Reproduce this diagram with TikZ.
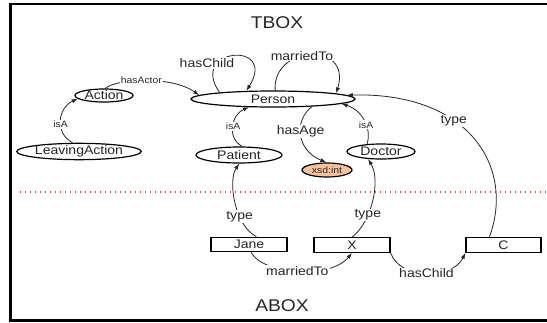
\documentclass[tikz,border=0pt]{standalone}
\usepackage{fontspec}
\setmainfont[FakeStretch=1.13]{Liberation Sans}
\usetikzlibrary{shapes.geometric,arrows.meta,calc}
\definecolor{ink}{HTML}{262626}
\definecolor{peach}{HTML}{F5C29C}
\definecolor{sepred}{HTML}{E8403C}

\begin{document}
\begin{tikzpicture}[x=1pt,y=-1pt,
  concept/.style={ellipse,draw,line width=1.2pt,fill=white,inner sep=0pt,
    text=ink,font=\fontsize{12.4}{14}\selectfont},
  literal/.style={concept,fill=peach,font=\fontsize{9.2}{11}\selectfont},
  individual/.style={rectangle,draw,line width=1.2pt,fill=white,inner sep=0pt,
    minimum width=76pt,minimum height=14.5pt,text=ink,font=\fontsize{12.4}{14}\selectfont},
  rel/.style={draw=ink,line width=0.8pt,-{Latex[length=6pt,width=4.2pt]}},
  biglbl/.style={fill=white,inner sep=1pt,text=ink,font=\fontsize{12.4}{14}\selectfont},
  smalllbl/.style={fill=white,inner sep=1pt,text=ink,font=\fontsize{9.2}{11}\selectfont},
  boxtitle/.style={text=ink,font=\fontsize{17}{20}\selectfont}
]
\useasboundingbox (0,0) rectangle (547,322);

% outer frame (open on the right)
\draw[line width=2.6pt] (547,3.8) -- (10.5,3.8) -- (10.5,320.6) -- (547,320.6);

% section titles
\node[boxtitle] (tbox) at (277,23) {TBOX};
\node[boxtitle] (abox) at (282,306) {ABOX};

% TBOX / ABOX separator
\coordinate (sepL) at (20,192);
\coordinate (sepR) at (547,192);
\draw[sepred,line width=1.3pt,dash pattern=on 1.3pt off 3.7pt] (sepL) -- (sepR);

% concepts
\node[concept,minimum width=164pt,minimum height=16pt] (Person) at (273,99) {Person};
\node[concept,minimum width=58pt,minimum height=13pt] (Action) at (104,95.5) {Action};
\node[concept,minimum width=109pt,minimum height=15pt] (Leaving) at (79,151.5) {LeavingAction};
\node[concept,minimum width=86pt,minimum height=16pt] (Patient) at (239,155) {Patient};
\node[concept,minimum width=68pt,minimum height=15pt] (Doctor) at (381,151.5) {Doctor};
\node[literal,minimum width=50pt,minimum height=14pt] (xsd) at (327,170) {xsd:int};

% individuals
\node[individual] (Jane) at (249,244.5) {Jane};
\node[individual] (X) at (352,245) {X};
\node[individual,minimum width=75pt] (C) at (503.5,245) {C};

% TBOX relations
\draw[rel] (Person.173) .. controls (188,48) and (278,40) .. (Person.163);
\node[biglbl] (hasChildLbl) at (207,63) {hasChild};
\draw[rel] (Person.76) .. controls (272,45) and (352,40) .. (Person.5)
  node[biglbl,pos=0.42] {marriedTo};
\draw[rel] (Action.80) .. controls (118,78) and (172,76) .. (Person.177)
  node[smalllbl,pos=0.45] {hasActor};
\draw[rel] (Leaving.126) .. controls (54,133) and (58,108) .. (Action.-173)
  node[smalllbl,pos=0.42] {isA};
\draw[rel] (Patient.69) .. controls (226,138) and (232,114) .. (Person.-161)
  node[smalllbl,pos=0.5] {isA};
\draw[rel] (Person.-11) .. controls (294,120) and (296,150) .. (xsd.95)
  node[biglbl,pos=0.45] {hasAge};
\draw[rel] (Doctor.152) .. controls (372,128) and (362,110) .. (Person.-4)
  node[smalllbl,pos=0.4] {isA};

% ABOX relations
\draw[rel] (C.151) .. controls (515,168) and (470,92) .. (Person.3)
  node[biglbl,pos=0.62] {type};
\draw[rel] (Jane.47) .. controls (234,225) and (228,180) .. (Patient.-88)
  node[biglbl,pos=0.33] {type};
\draw[rel] (X.north) .. controls (372,222) and (381,180) .. (Doctor.-150)
  node[biglbl,pos=0.33] {type};
\draw[rel] (Jane.-75) .. controls (262,274) and (330,280) .. (X.south)
  node[biglbl,pos=0.5] {marriedTo};
\draw[rel] (X.south east) .. controls (400,280) and (452,280) .. (C.south west)
  node[biglbl,pos=0.5] {hasChild};
\end{tikzpicture}
\end{document}
